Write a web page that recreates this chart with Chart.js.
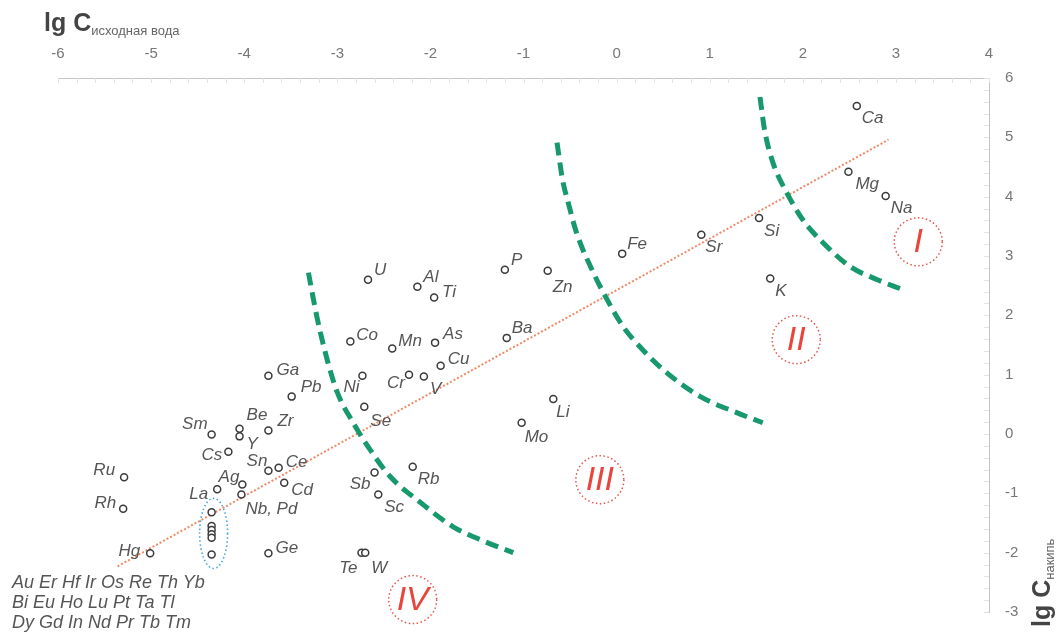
<!DOCTYPE html>
<html>
<head>
<meta charset="utf-8">
<script src="https://cdn.jsdelivr.net/npm/chart.js@4.4.1/dist/chart.umd.min.js"></script>
<style>
  html, body { margin: 0; padding: 0; background: #fff; }
  #wrap { position: relative; width: 1063px; height: 637px; overflow: hidden; font-family: "Liberation Sans", Arial, sans-serif; }
  #chart { position: absolute; left: 0; top: 0; }
  .ttl { position: absolute; color: #444; font-weight: bold; font-size: 25px; line-height: 25px; white-space: nowrap; }
  .ttl sub { font-size: 13px; font-weight: normal; color: #666; vertical-align: -4px; }
  #xTitle { left: 44px; top: 10px; }
  #yTitle { left: 1029px; top: 627px; transform: rotate(-90deg); transform-origin: left top; }
  #group { position: absolute; left: 12px; top: 572px; font-style: italic; font-size: 18px; line-height: 20px; color: #555; white-space: nowrap; }
</style>
</head>
<body>
<div id="wrap">
  <canvas id="chart" width="1063" height="637"></canvas>
  <div class="ttl" id="xTitle">lg C<sub>исходная вода</sub></div>
  <div class="ttl" id="yTitle">lg C<sub>накипь</sub></div>
  <div id="group"></div>
</div>
<script>
// lg of concentration: source water (x) vs. scale deposit (y)
const elements = ['Ca', 'Mg', 'Na', 'Si', 'Sr', 'K', 'Fe', 'P', 'Zn', 'U', 'Al', 'Ti', 'Ba', 'Co', 'Mn',
  'As', 'Cu', 'Cr', 'V', 'Ni', 'Se', 'Ga', 'Pb', 'Li', 'Mo', 'Sm', 'Be', 'Y', 'Zr', 'Cs', 'Sn', 'Ce', 'Cd',
  'Ag', 'La', 'Nb, Pd', 'Ru', 'Rh', 'Hg', 'Ge', 'Sb', 'Sc', 'Rb', 'Te', 'W'];
const lgWater = [2.58, 2.49, 2.89, 1.53, 0.91, 1.65, 0.06, -1.20, -0.74, -2.67, -2.14, -1.96, -1.18, -2.86, -2.41,
  -1.95, -1.89, -2.23, -2.07, -2.73, -2.71, -3.74, -3.49, -0.68, -1.02, -4.35, -4.05, -4.05, -3.74, -4.17, -3.74, -3.63, -3.57,
  -4.02, -4.29, -4.03, -5.29, -5.30, -5.01, -3.74, -2.60, -2.56, -2.19, -2.74, -2.70];
const lgScale = [5.53, 4.42, 4.01, 3.64, 3.36, 2.62, 3.04, 2.77, 2.75, 2.60, 2.48, 2.30, 1.62, 1.56, 1.44,
  1.54, 1.15, 1.00, 0.97, 0.98, 0.46, 0.98, 0.63, 0.59, 0.19, -0.01, 0.09, -0.04, 0.06, -0.30, -0.62, -0.57, -0.82,
  -0.85, -0.93, -1.02, -0.73, -1.26, -2.01, -2.01, -0.65, -1.02, -0.55, -2.00, -2.00];

// rare elements that sit in one column at the lower left
const groupNames = [
  ['Au', 'Er', 'Hf', 'Ir', 'Os', 'Re', 'Th', 'Yb'],
  ['Bi', 'Eu', 'Ho', 'Lu', 'Pt', 'Ta', 'Tl'],
  ['Dy', 'Gd', 'In', 'Nd', 'Pr', 'Tb', 'Tm']
];
const groupWater = [-4.35, -4.35, -4.35, -4.35, -4.35, -4.35];
const groupScale = [-1.32, -1.55, -1.62, -1.69, -1.75, -2.03];

// regression line
const trendX = [-5.36, 2.92];
const trendY = [-2.23, 4.96];

// zone boundaries
const bound1X = [-3.31, -3.22, -3.11, -3.00, -2.83, -2.65, -2.43, -2.11, -1.76, -1.39, -1.11];
const bound1Y = [2.72, 1.98, 1.26, 0.70, 0.19, -0.26, -0.72, -1.15, -1.56, -1.83, -2.00];
const bound2X = [-0.64, -0.58, -0.52, -0.43, -0.25, -0.10, 0.07, 0.28, 0.54, 0.90, 1.29, 1.57];
const bound2Y = [4.91, 4.28, 3.90, 3.39, 2.72, 2.26, 1.81, 1.42, 1.03, 0.63, 0.36, 0.19];
const bound3X = [1.54, 1.59, 1.68, 1.83, 2.00, 2.22, 2.51, 2.80, 3.08];
const bound3Y = [5.68, 5.12, 4.57, 4.06, 3.61, 3.22, 2.82, 2.60, 2.43];

// zone markers
const zoneNames = ['I', 'II', 'III', 'IV'];
const zoneX = [3.24, 1.93, -0.18, -2.19];
const zoneY = [3.24, 1.59, -0.77, -2.79];

// label offsets from the marker: dx, dy, align
const labelPos = {
  Ca: [5, 12, 'left'], Mg: [7, 13, 'left'], Na: [5, 12, 'left'], Si: [5, 13, 'left'], Sr: [4, 13, 'left'],
  K: [5, 13, 'left'], Fe: [5, -9, 'left'], P: [6, -9, 'left'], Zn: [5, 16, 'left'], U: [6, -9, 'left'],
  Al: [6, -10, 'left'], Ti: [8, -5, 'left'], Ba: [5, -10, 'left'], Co: [6, -6, 'left'], Mn: [6, -7, 'left'],
  As: [8, -8, 'left'], Cu: [7, -7, 'left'], Cr: [-4, 9, 'right'], V: [6, 13, 'left'], Ni: [-3, 11, 'right'],
  Se: [6, 15, 'left'], Ga: [8, -6, 'left'], Pb: [9, -9, 'left'], Li: [3, 13, 'left'], Mo: [3, 15, 'left'],
  Sm: [-4, -10, 'right'], Be: [7, -13, 'left'], Y: [7, 8, 'left'], Zr: [9, -9, 'left'], Cs: [-6, 3, 'right'],
  Sn: [-1, -10, 'right'], Ce: [7, -6, 'left'], Cd: [7, 8, 'left'], Ag: [-3, -7, 'right'], La: [-9, 5, 'right'],
  'Nb, Pd': [4, 15, 'left'], Ru: [-9, -7, 'right'], Rh: [-7, -5, 'right'], Hg: [-10, -2, 'right'],
  Ge: [7, -5, 'left'], Sb: [-4, 12, 'right'], Sc: [6, 13, 'left'], Rb: [5, 13, 'left'], Te: [-4, 16, 'right'],
  W: [6, 16, 'left']
};

const toPoints = (xs, ys) => xs.map((x, i) => ({ x: x, y: ys[i] }));

document.getElementById('group').innerHTML = groupNames.map(r => r.join(' ')).join('<br>');

Chart.defaults.font.family = '"Liberation Sans", Arial, sans-serif';

const boundaryStyle = {
  showLine: true,
  borderColor: '#17996b',
  borderWidth: 5,
  borderDash: [13, 7],
  pointRadius: 0,
  cubicInterpolationMode: 'monotone',
  fill: false,
  order: 2
};

// minor tick marks on the inner side of both axes
const minorTicks = {
  id: 'minorTicks',
  afterDraw(chart) {
    const { ctx, chartArea: a, scales: { x, y } } = chart;
    ctx.save();
    ctx.strokeStyle = '#e2e2e2';
    ctx.lineWidth = 1;
    ctx.beginPath();
    for (let v = x.min; v <= x.max + 1e-9; v += 0.2) {
      const px = Math.round(x.getPixelForValue(v)) + 0.5;
      ctx.moveTo(px, a.top);
      ctx.lineTo(px, a.top + 5);
    }
    for (let v = y.min; v <= y.max + 1e-9; v += 0.2) {
      const py = Math.round(y.getPixelForValue(v)) + 0.5;
      ctx.moveTo(a.right - 5, py);
      ctx.lineTo(a.right, py);
    }
    ctx.stroke();
    ctx.restore();
  }
};

// dotted zone circles, group ellipse and element labels
const annotations = {
  id: 'annotations',
  afterDatasetsDraw(chart) {
    const { ctx, scales: { x, y } } = chart;
    ctx.save();

    // zones
    zoneNames.forEach((name, i) => {
      const cx = x.getPixelForValue(zoneX[i]);
      const cy = y.getPixelForValue(zoneY[i]);
      ctx.beginPath();
      ctx.setLineDash([1.5, 2.5]);
      ctx.strokeStyle = '#e0574c';
      ctx.lineWidth = 1.5;
      ctx.arc(cx, cy, 24, 0, Math.PI * 2);
      ctx.stroke();
      ctx.setLineDash([]);
      ctx.fillStyle = '#e8463c';
      ctx.font = 'italic 34px "Liberation Sans", Arial, sans-serif';
      ctx.textAlign = 'center';
      ctx.textBaseline = 'middle';
      ctx.fillText(name, cx, cy + 1);
    });

    // ellipse round the rare-element column
    const gx = x.getPixelForValue(groupWater[0]);
    const gTop = y.getPixelForValue(Math.max(...groupScale));
    const gBot = y.getPixelForValue(Math.min(...groupScale));
    ctx.beginPath();
    ctx.setLineDash([1.5, 2.5]);
    ctx.strokeStyle = '#45a5e0';
    ctx.lineWidth = 1.6;
    ctx.ellipse(gx + 2, (gTop + gBot) / 2, 14, (gBot - gTop) / 2 + 14, 0, 0, Math.PI * 2);
    ctx.stroke();
    ctx.setLineDash([]);

    // element labels
    const meta = chart.getDatasetMeta(0);
    ctx.fillStyle = '#555';
    ctx.font = 'italic 17px "Liberation Sans", Arial, sans-serif';
    ctx.textBaseline = 'middle';
    elements.forEach((name, i) => {
      const p = meta.data[i];
      const [dx, dy, align] = labelPos[name];
      ctx.textAlign = align;
      ctx.fillText(name, p.x + dx, p.y + dy);
    });
    ctx.restore();
  }
};

new Chart(document.getElementById('chart'), {
  type: 'scatter',
  data: {
    datasets: [
      {
        data: toPoints(lgWater, lgScale),
        pointStyle: 'circle',
        pointRadius: 3.5,
        borderWidth: 1.5,
        borderColor: '#3a3a3a',
        backgroundColor: '#fff',
        order: 0
      },
      {
        data: toPoints(groupWater, groupScale),
        pointStyle: 'circle',
        pointRadius: 3.5,
        borderWidth: 1.5,
        borderColor: '#3a3a3a',
        backgroundColor: '#fff',
        order: 0
      },
      {
        data: toPoints(trendX, trendY),
        showLine: true,
        borderColor: '#f08a66',
        borderWidth: 2,
        borderDash: [2, 2],
        pointRadius: 0,
        order: 3
      },
      Object.assign({ data: toPoints(bound1X, bound1Y) }, boundaryStyle),
      Object.assign({ data: toPoints(bound2X, bound2Y) }, boundaryStyle),
      Object.assign({ data: toPoints(bound3X, bound3Y) }, boundaryStyle)
    ]
  },
  options: {
    responsive: false,
    animation: false,
    layout: { padding: { left: 58, right: 0, top: 0, bottom: 24 } },
    plugins: { legend: { display: false }, tooltip: { enabled: false } },
    scales: {
      x: {
        type: 'linear',
        position: 'top',
        min: -6,
        max: 4,
        ticks: { stepSize: 1, color: '#777', font: { size: 15 }, padding: 15 },
        grid: { display: true, drawOnChartArea: false, drawTicks: false },
        border: { color: '#c4c4c4', width: 1 },
        afterFit(scale) { scale.height = 78; }
      },
      y: {
        type: 'linear',
        position: 'right',
        min: -3,
        max: 6,
        ticks: { stepSize: 1, color: '#777', font: { size: 15 }, padding: 16 },
        grid: { display: true, drawOnChartArea: false, drawTicks: false },
        border: { color: '#c4c4c4', width: 1 },
        afterFit(scale) { scale.width = 74; }
      }
    }
  },
  plugins: [minorTicks, annotations]
});
</script>
</body>
</html>
